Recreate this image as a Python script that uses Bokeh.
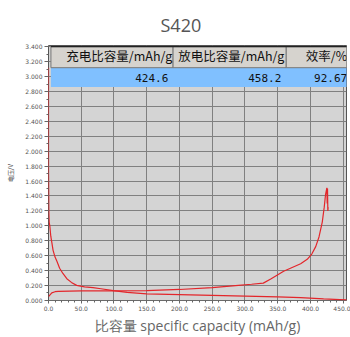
from bokeh.plotting import figure
from bokeh.models import NumeralTickFormatter, ColumnDataSource, SingleIntervalTicker
from bokeh.core.properties import value
from bokeh.embed import file_html
from bokeh.resources import INLINE

# ---- data ----
discharge_cap = [0, 0, 0, 0.5, 1, 2, 3.5, 5, 7, 10, 13, 17, 22, 28, 35, 43, 55, 68, 80, 99,
                 120, 150, 200, 250, 300, 350, 385, 420, 445, 458]
discharge_v = [3.12, 2.5, 1.8, 1.2, 1.05, 1.0, 0.86, 0.78, 0.67, 0.58, 0.52, 0.43, 0.36, 0.29,
               0.24, 0.2, 0.18, 0.17, 0.155, 0.13, 0.105, 0.085, 0.075, 0.065, 0.055, 0.045,
               0.035, 0.02, 0.01, 0.005]
charge_cap = [0, 2, 5, 10, 15, 50, 100, 150, 200, 250, 290, 310, 328, 340, 359, 372, 385, 395,
              402, 408, 413, 418, 421, 423, 425, 425.5, 426, 426.5, 427]
charge_v = [0.05, 0.07, 0.1, 0.115, 0.12, 0.125, 0.125, 0.13, 0.145, 0.17, 0.2, 0.215, 0.23,
            0.29, 0.39, 0.44, 0.49, 0.55, 0.62, 0.72, 0.85, 1.05, 1.25, 1.42, 1.51, 1.3, 1.5,
            1.2, 1.25]
table_headers = ["充电比容量/mAh/g", "放电比容量/mAh/g", "效率/%"]
table_values = ["424.6", "458.2", "92.67"]

# table geometry (data coordinates)
cell_left = [3.7, 190.2, 363.0]
cell_right = [190.2, 363.0, 460.0]
head_top, head_bot, row_bot = 3.405, 3.122, 2.864
head_text_x = [189.0, 360.0, 456.0]
val_text_x = [183.0, 355.4, 456.0]

p = figure(width=350, height=337, x_range=(0, 455), y_range=(-0.003, 3.42),
           output_backend="svg", toolbar_location=None,
           min_border_left=48, min_border_right=4, min_border_top=45, min_border_bottom=35)

p.background_fill_color = "#d4d4d4"
p.border_fill_color = "white"
p.outline_line_color = "#555555"

p.title.text = "S420"
p.title.text_font = "Open Sans"
p.title.text_font_size = "18px"
p.title.text_font_style = "normal"
p.title.text_color = "#555555"
p.title.align = "left"
p.title.offset = 112
p.title.standoff = 17

# grid
p.xgrid.grid_line_color = "#808080"
p.ygrid.grid_line_color = "#808080"
p.xaxis.ticker = SingleIntervalTicker(interval=50, num_minor_ticks=5)
p.yaxis.ticker = SingleIntervalTicker(interval=0.2, num_minor_ticks=2)
p.xgrid.ticker = p.xaxis.ticker
p.ygrid.ticker = p.yaxis.ticker

p.xaxis.formatter = NumeralTickFormatter(format="0.0")
p.yaxis.formatter = NumeralTickFormatter(format="0.000")
for ax in (p.xaxis, p.yaxis):
    ax.major_label_text_font = "DejaVu Sans"
    ax.major_label_text_font_size = "6px"
    ax.major_label_text_color = "#555555"
    ax.axis_line_color = None
    ax.major_tick_line_color = "#666666"
    ax.minor_tick_line_color = "#666666"
    ax.major_tick_in = 0
    ax.minor_tick_out = 2
    ax.minor_tick_in = 0
    ax.major_label_standoff = 2
p.xaxis.major_tick_out = 3
p.yaxis.major_tick_out = 4

p.xaxis.axis_label = "比容量 specific capacity (mAh/g)"
p.xaxis.axis_label_text_font = "Open Sans"
p.xaxis.axis_label_text_font_size = "14px"
p.xaxis.axis_label_text_font_style = "normal"
p.xaxis.axis_label_text_color = "#666666"
p.xaxis.axis_label_standoff = 2

p.yaxis.axis_label = "电压/V"
p.yaxis.axis_label_text_font = "Noto Sans CJK SC"
p.yaxis.axis_label_text_font_size = "6px"
p.yaxis.axis_label_text_font_style = "normal"
p.yaxis.axis_label_text_color = "#333333"
p.yaxis.axis_label_standoff = 7

# curves
p.line(discharge_cap, discharge_v, line_color="#e3262b", line_width=1.2)
p.line(charge_cap, charge_v, line_color="#e3262b", line_width=1.2)

# table overlay
p.quad(left=[cell_left[0]], right=[cell_right[-1]], bottom=[row_bot], top=[head_bot],
       fill_color="#80c0ff", line_color=None)
p.quad(left=cell_left, right=cell_right, bottom=[head_bot] * 3, top=[head_top] * 3,
       fill_color="#d6d3ce", line_color="#777777", line_width=1)
p.segment(x0=[cell_left[0]], y0=[head_top], x1=[cell_right[-1]], y1=[head_top],
          line_color="#222222", line_width=1.2)

src_h = ColumnDataSource(dict(x=head_text_x, y=[3.28] * 3, t=table_headers))
p.text(x="x", y="y", text="t", source=src_h, text_align="right", text_baseline="middle",
       text_font=value("Noto Sans CJK SC"), text_font_size="12.5px", text_color="#111111")
src_v = ColumnDataSource(dict(x=val_text_x, y=[2.99] * 3, t=table_values))
p.text(x="x", y="y", text="t", source=src_v, text_align="right", text_baseline="middle",
       text_font=value("DejaVu Sans Mono"), text_font_size="11px", text_color="#111111")

open("out.html", "w").write(file_html(p, INLINE))
